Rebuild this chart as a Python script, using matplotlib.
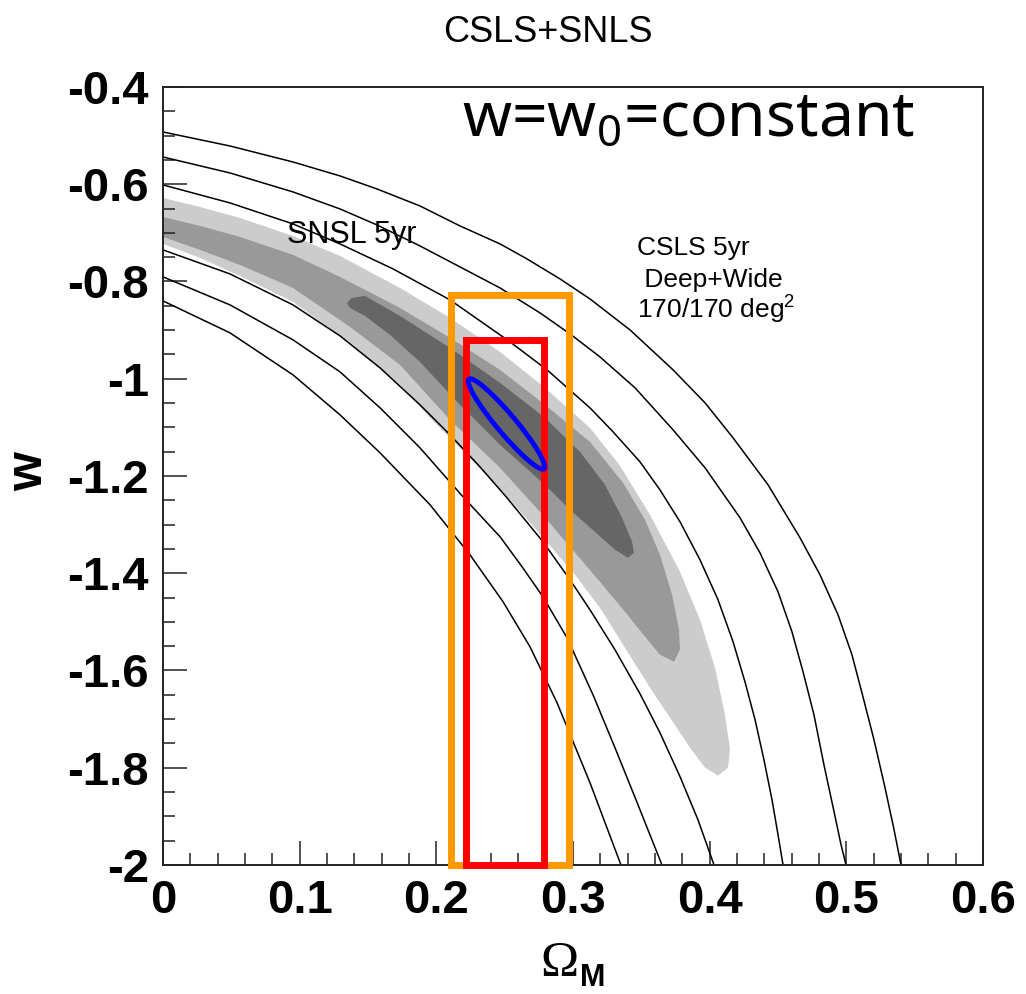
import matplotlib
matplotlib.use("Agg")
import matplotlib.pyplot as plt
from matplotlib.patches import Ellipse, Rectangle
from matplotlib.transforms import ScaledTranslation
from matplotlib.ticker import MultipleLocator

plt.rcParams['font.family'] = ['Liberation Sans', 'DejaVu Sans']
plt.rcParams['axes.unicode_minus'] = False

# iso-curves (Omega_M, w)
curve1_om = [0, 0.049, 0.0951, 0.1295, 0.1566, 0.188, 0.2173, 0.2466, 0.2663, 0.2905, 0.3124, 0.3417, 0.3732,
             0.3966, 0.4171, 0.4427, 0.4661, 0.4807, 0.4939, 0.5041, 0.5114, 0.5202, 0.5283, 0.5349, 0.540]
curve1_w = [-0.4925, -0.5213, -0.5542, -0.5829, -0.6097, -0.6446, -0.6857, -0.7227, -0.7535, -0.7947, -0.8358,
            -0.8995, -0.9817, -1.0495, -1.1215, -1.2181, -1.327, -1.4031, -1.4853, -1.5675, -1.6456, -1.7422,
            -1.8409, -1.9272, -2.0]
curve2_om = [0, 0.049, 0.0951, 0.1295, 0.1566, 0.188, 0.2173, 0.2466, 0.2758, 0.2978, 0.3197, 0.3454, 0.3732,
             0.3966, 0.4222, 0.4368, 0.450, 0.4602, 0.4683, 0.4763, 0.4836, 0.491, 0.4961, 0.4998]
curve2_w = [-0.5439, -0.5768, -0.6158, -0.6508, -0.6837, -0.7268, -0.770, -0.8132, -0.8645, -0.9077, -0.955,
            -1.0187, -1.105, -1.1831, -1.2859, -1.3579, -1.438, -1.5202, -1.6025, -1.6909, -1.7936, -1.8903,
            -1.9581, -2.0]
curve3_om = [0, 0.049, 0.0951, 0.1295, 0.1683, 0.210, 0.2539, 0.281, 0.3124, 0.3293, 0.349, 0.3636, 0.3783,
             0.3929, 0.4061, 0.4171, 0.4258, 0.4332, 0.4397, 0.4456, 0.450, 0.4537]
curve3_w = [-0.6014, -0.6384, -0.6816, -0.7227, -0.7741, -0.8378, -0.9241, -0.9817, -1.0598, -1.1091, -1.1708,
            -1.2284, -1.2941, -1.3722, -1.4545, -1.5408, -1.623, -1.7011, -1.7834, -1.8656, -1.9374, -2.0]
curve4_om = [0, 0.049, 0.0951, 0.1295, 0.1588, 0.188, 0.210, 0.2319, 0.2517, 0.278, 0.2978, 0.3124, 0.3307,
             0.349, 0.3636, 0.3783, 0.3914, 0.4032]
curve4_w = [-0.735, -0.7844, -0.8481, -0.9118, -0.9776, -1.0536, -1.1153, -1.1811, -1.2448, -1.3352, -1.4133,
            -1.475, -1.5572, -1.6477, -1.7278, -1.8183, -1.9067, -2.0]
curve5_om = [0, 0.049, 0.0951, 0.1295, 0.1588, 0.188, 0.2195, 0.2466, 0.2627, 0.278, 0.2956, 0.3146, 0.3307,
             0.3475, 0.3651]
curve5_w = [-0.7905, -0.8481, -0.920, -0.9858, -1.0598, -1.142, -1.2427, -1.3249, -1.3866, -1.4483, -1.5326,
            -1.6497, -1.7587, -1.8757, -2.0]
curve6_om = [0, 0.049, 0.0951, 0.1295, 0.1588, 0.1954, 0.2246, 0.2488, 0.2685, 0.2883, 0.3124, 0.3351]
curve6_w = [-0.8399, -0.9056, -0.992, -1.0742, -1.1523, -1.2592, -1.362, -1.4586, -1.5511, -1.6662, -1.8306, -2.0]

# SN confidence regions (outer -> inner), outline read clockwise
light_om = [0, 0.0271, 0.0563, 0.0951, 0.1295, 0.1734, 0.2100, 0.2466, 0.2795, 0.3124, 0.3344, 0.3563, 0.3783,
            0.3929, 0.4039, 0.4112, 0.4149, 0.4134, 0.4061,
            0.3966, 0.3856, 0.3710, 0.3563, 0.3380, 0.3197, 0.3015, 0.2795, 0.2539, 0.2246, 0.1954, 0.1734,
            0.1368, 0.0951, 0.0563, 0.0271, 0]
light_w = [-0.6282, -0.6467, -0.6693, -0.7063, -0.7474, -0.8132, -0.8748, -0.9447, -1.0187, -1.1009, -1.1790,
           -1.2797, -1.3969, -1.4956, -1.5942, -1.6908, -1.7628, -1.7998, -1.8162,
           -1.7998, -1.7587, -1.6970, -1.6354, -1.5532, -1.4709, -1.4031, -1.3311, -1.2489, -1.1626, -1.0804,
           -1.0125, -0.9262, -0.8419, -0.7885, -0.7515, -0.7227]
mid_om = [0, 0.0271, 0.0563, 0.0951, 0.1295, 0.1734, 0.2100, 0.2466, 0.2795, 0.3124, 0.3366, 0.3527, 0.3636,
          0.3725, 0.3776, 0.3783, 0.3739,
          0.3636, 0.3527, 0.3380, 0.3197, 0.2978, 0.2758, 0.2466, 0.2100, 0.1734, 0.1368, 0.0951, 0.0563, 0.0271, 0]
mid_w = [-0.6672, -0.6857, -0.7083, -0.7453, -0.7905, -0.8543, -0.9159, -0.9817, -1.0536, -1.1297, -1.2140,
         -1.2900, -1.3620, -1.4442, -1.5161, -1.5572, -1.5819,
         -1.5675, -1.5305, -1.4791, -1.4175, -1.3455, -1.2736, -1.1831, -1.0845, -0.9714, -0.8933, -0.8132,
         -0.7659, -0.7350, -0.7083]
dark_om = [0.1346, 0.1383, 0.1478, 0.1734, 0.2100, 0.2466, 0.2795, 0.3051, 0.3234, 0.3359, 0.3432, 0.3446, 0.3402,
           0.3307, 0.3161, 0.2978, 0.2795, 0.2466, 0.2173, 0.1880, 0.1661, 0.1478, 0.1368]
dark_w = [-0.8440, -0.8337, -0.8296, -0.8707, -0.9365, -1.0084, -1.0804, -1.1503, -1.2181, -1.2859, -1.3352,
          -1.3578, -1.3681,
          -1.3517, -1.3147, -1.2695, -1.2181, -1.1359, -1.0536, -0.9653, -0.9098, -0.8707, -0.8543]

# survey boxes: (om_min, om_max, w_top)
orange_box = (0.211, 0.297, -0.828)
red_box = (0.222, 0.279, -0.921)
ellipse_center = (0.2513, -1.093)

xticks = [0, 0.1, 0.2, 0.3, 0.4, 0.5, 0.6]
xtick_labels = ['0', '0.1', '0.2', '0.3', '0.4', '0.5', '0.6']
yticks = [-2, -1.8, -1.6, -1.4, -1.2, -1, -0.8, -0.6, -0.4]
ytick_labels = ['-2', '-1.8', '-1.6', '-1.4', '-1.2', '-1', '-0.8', '-0.6', '-0.4']

fig = plt.figure(figsize=(10.26, 9.94), dpi=100)
ax = fig.add_axes([0.15887, 0.12978, 0.79922, 0.78270])

ax.fill(light_om, light_w, color='#cccccc', lw=0, zorder=1)
ax.fill(mid_om, mid_w, color='#999999', lw=0, zorder=1.1)
ax.fill(dark_om, dark_w, color='#666666', lw=0, zorder=1.2)

for om, w in [(curve1_om, curve1_w), (curve2_om, curve2_w), (curve3_om, curve3_w),
              (curve4_om, curve4_w), (curve5_om, curve5_w), (curve6_om, curve6_w)]:
    ax.plot(om, w, color='black', lw=1.1, zorder=2, solid_joinstyle='round')

for (x0, x1, top), col in [(orange_box, '#ff9900'), (red_box, '#ff0000')]:
    ax.add_patch(Rectangle((x0, -2), x1 - x0, top + 2, fill=False, ec=col, lw=5,
                           clip_on=False, zorder=4))

ell = Ellipse((0, 0), width=1.17, height=0.19, angle=-50, fill=False, ec='#0000ff', lw=3.5,
              transform=fig.dpi_scale_trans + ScaledTranslation(*ellipse_center, ax.transData),
              zorder=5)
ax.add_patch(ell)

ax.set_xlim(0, 0.6)
ax.set_ylim(-2, -0.4)
ax.set_xticks(xticks)
ax.set_xticklabels(xtick_labels, fontsize=34, fontweight='bold')
ax.set_yticks(yticks)
ax.set_yticklabels(ytick_labels, fontsize=34, fontweight='bold')
ax.xaxis.set_minor_locator(MultipleLocator(0.02))
ax.yaxis.set_minor_locator(MultipleLocator(0.05))
ax.tick_params(which='both', direction='in', top=False, right=False, width=1.1, color='#222222')
ax.tick_params(which='major', length=17, pad=10)
ax.tick_params(which='minor', length=8.5)
for s in ax.spines.values():
    s.set_linewidth(1.4)
    s.set_color('#222222')

ax.text(0.0907, -0.7207, 'SNSL 5yr', fontsize=22, va='baseline', ha='left', zorder=6)
ax.text(0.3468, -0.7453, 'CSLS 5yr', fontsize=19, va='baseline', ha='left', zorder=6)
ax.text(0.3468, -0.8111, ' Deep+Wide', fontsize=19, va='baseline', ha='left', zorder=6)
ax.text(0.3468, -0.8748, r'170/170 deg$^\mathregular{2}$', fontsize=19, va='baseline', ha='left', zorder=6)
ax.text(0.2191, -0.5, r'w=w$_\mathregular{0}$=constant', fontsize=45, va='baseline', ha='left',
        family=['Noto Sans', 'DejaVu Sans'], zorder=6)

fig.text(548 / 1026, 1 - 33 / 994, 'CSLS+SNLS', ha='center', va='center', fontsize=26)
fig.text(29 / 1026, 1 - 472 / 994, 'w', rotation=90, ha='center', va='center',
         fontsize=36, fontweight='bold')
fig.text(540 / 1026, 1 - 976 / 994, '\u03a9', ha='left', va='baseline', fontsize=37,
         family=['Liberation Serif', 'DejaVu Serif'])
fig.text(580 / 1026, 1 - 986 / 994, 'M', ha='left', va='baseline', fontsize=22, fontweight='bold')

fig.savefig('out.png', dpi=100)
